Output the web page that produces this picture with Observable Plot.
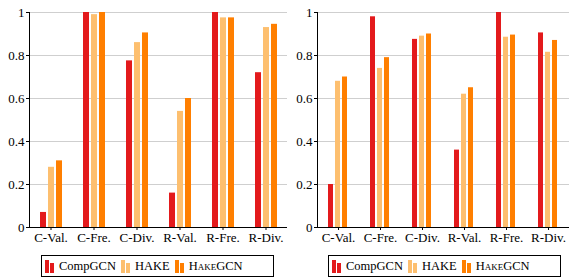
<!DOCTYPE html>
<html>
<head>
<meta charset="utf-8">
<script src="https://cdn.jsdelivr.net/npm/d3@7"></script>
<script src="https://cdn.jsdelivr.net/npm/@observablehq/plot@0.6"></script>
<style>
  html, body { margin: 0; padding: 0; background: #fff; }
  #wrap { position: relative; width: 570px; height: 277px; font-family: "Liberation Serif", serif; }
  #wrap svg, #wrap svg text { font-family: "Liberation Serif", serif !important; }
  .panel { position: absolute; top: 0; }
  .legend { position: absolute; top: 255px; height: 22px; box-sizing: border-box; border: 1px solid #000;
            display: flex; align-items: center; font-size: 12.5px; padding-left: 3px; background: #fff; }
  .item { display: flex; align-items: center; margin-right: 5px; }
  .sw { display: inline-flex; align-items: flex-end; height: 13px; margin-right: 4px; }
  .sw span { display: inline-block; width: 4px; margin-right: 1px; }
</style>
</head>
<body>
<div id="wrap"></div>
<script>
const categories = ["C-Val.", "C-Fre.", "C-Div.", "R-Val.", "R-Fre.", "R-Div."];
const series = ["CompGCN", "HAKE", "HakeGCN"];
const colors = ["#e31a1c", "#fdbf6f", "#ff7f00"];
const yTicks = [0, 0.2, 0.4, 0.6, 0.8, 1];
const serif = "Liberation Serif";

// Left panel values (per series, in category order)
const leftCompGCN = [0.07, 1.00, 0.775, 0.16, 1.00, 0.72];
const leftHAKE    = [0.28, 0.99, 0.86, 0.54, 0.975, 0.93];
const leftHakeGCN = [0.31, 1.00, 0.905, 0.60, 0.975, 0.945];

// Right panel values
const rightCompGCN = [0.20, 0.98, 0.875, 0.36, 1.00, 0.905];
const rightHAKE    = [0.68, 0.74, 0.89, 0.62, 0.885, 0.815];
const rightHakeGCN = [0.70, 0.79, 0.90, 0.65, 0.895, 0.87];

function table(vals) {
  const rows = [];
  series.forEach((s, si) => categories.forEach((c, ci) => rows.push({cat: c, series: s, value: vals[si][ci]})));
  return rows;
}

function panel(data, width, marginRight) {
  return Plot.plot({
    width, height: 250,
    marginLeft: 29, marginRight, marginTop: 12, marginBottom: 23,
    style: {fontFamily: "'Liberation Serif', serif", fontSize: "13px", color: "#000", background: "transparent"},
    fx: {domain: categories, padding: 0, label: null},
    x: {domain: series, paddingInner: 0.25, paddingOuter: 1.3125, axis: null},
    y: {domain: [0, 1], label: null},
    color: {domain: series, range: colors},
    marks: [
      Plot.gridY(yTicks, {stroke: "#cfcfcf", strokeOpacity: 1, strokeWidth: 1.2}),
      Plot.barY(data, {fx: "cat", x: "series", y: "value", fill: "series"}),
      Plot.axisY(yTicks, {tickSize: 3, tickPadding: 2, tickFormat: d => String(d), label: null, fontSize: 13, fontFamily: serif}),
      Plot.axisFx({anchor: "bottom", tickSize: 3, tickPadding: 2, label: null, fontSize: 13, fontFamily: serif}),
      Plot.ruleY([0], {stroke: "#000"}),
      Plot.frame({anchor: "left", stroke: "#000", facet: "super"})
    ]
  });
}

function legend(left) {
  const div = document.createElement("div");
  div.className = "legend";
  div.style.left = left + "px";
  div.style.width = "233px";
  series.forEach((s, i) => {
    const item = document.createElement("div");
    item.className = "item";
    const sw = document.createElement("span");
    sw.className = "sw";
    sw.innerHTML = `<span style="background:${colors[i]};height:13px"></span><span style="background:${colors[i]};height:10px"></span>`;
    const label = document.createElement("span");
    if (s === "HakeGCN") label.innerHTML = `<span style="font-variant:small-caps">Hake</span>GCN`;
    else label.textContent = s;
    item.append(sw, label);
    div.append(item);
  });
  return div;
}

const wrap = document.getElementById("wrap");
const p1 = panel(table([leftCompGCN, leftHAKE, leftHakeGCN]), 290, 3);
p1.classList.add("panel"); p1.style.left = "0px";
const p2 = panel(table([rightCompGCN, rightHAKE, rightHakeGCN]), 284, 0);
p2.classList.add("panel"); p2.style.left = "286px";
wrap.append(p1, p2, legend(41), legend(328));
</script>
</body>
</html>
